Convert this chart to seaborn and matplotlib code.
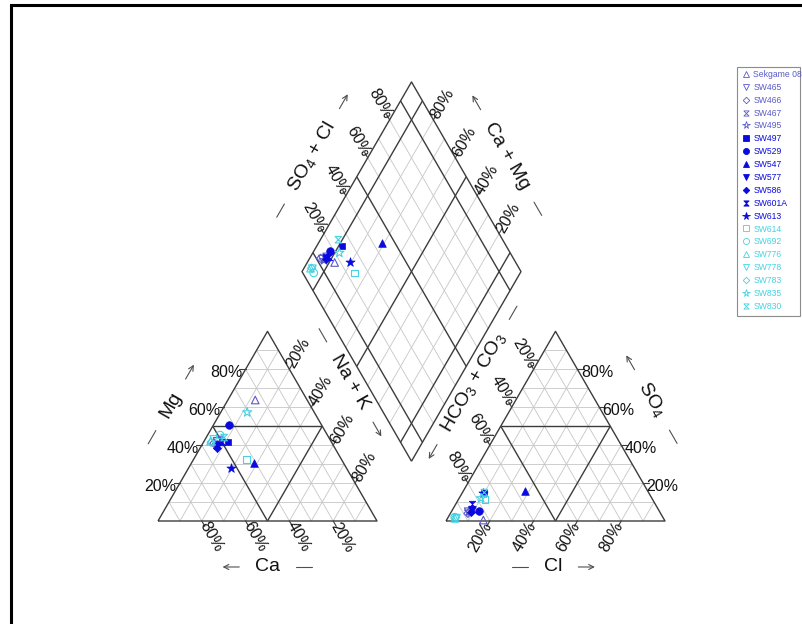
import numpy as np
import matplotlib
matplotlib.use("Agg")
import matplotlib.pyplot as plt
import seaborn as sns
from matplotlib.path import Path
from matplotlib.lines import Line2D
from matplotlib.patches import Rectangle

# ---------------------------------------------------------------- data (percent of meq)
samples = ["Sekgame 08", "SW465", "SW466", "SW467", "SW495", "SW497", "SW529",
           "SW547", "SW577", "SW586", "SW601A", "SW613", "SW614", "SW692",
           "SW776", "SW778", "SW783", "SW835", "SW830"]
ca   = [23.7, 52.0, 54.0, 50.0, 53.0, 47.1, 42.1, 40.8, 52.5, 54.1, 50.0, 52.8,
        43.3, 49.0, 55.0, 53.0, 55.0, 30.6, 47.8]
mg   = [63.8, 42.0, 41.0, 43.0, 40.0, 41.5, 50.6, 30.4, 40.0, 38.3, 41.8, 27.8,
        32.5, 45.3, 42.0, 43.0, 41.5, 57.3, 44.0]
na_k = [12.5, 6.0, 5.0, 7.0, 7.0, 11.4, 7.3, 28.8, 7.5, 7.6, 8.2, 19.4,
        24.2, 5.7, 3.0, 4.0, 3.5, 12.1, 8.2]
cl   = [16.8, 7.7, 8.0, 9.0, 8.0, 10.0, 12.5, 28.1, 8.8, 9.0, 7.3, 9.3,
        12.1, 3.0, 3.4, 4.0, 3.5, 10.0, 10.0]
so4  = [0.5, 4.9, 4.0, 6.0, 5.0, 15.0, 5.4, 16.0, 5.8, 5.0, 8.8, 14.9,
        11.4, 2.0, 1.4, 1.5, 1.8, 12.0, 15.0]
hco3 = [82.7, 87.4, 88.0, 85.0, 87.0, 75.0, 82.1, 55.9, 85.4, 86.0, 83.9, 75.8,
        76.5, 95.0, 95.2, 94.5, 94.7, 78.0, 75.0]

tick_values = [20, 40, 60, 80]

# ---------------------------------------------------------------- symbol styles
HOURGLASS = Path([(-1, 1), (1, 1), (-1, -1), (1, -1), (-1, 1)],
                 [Path.MOVETO, Path.LINETO, Path.LINETO, Path.LINETO, Path.CLOSEPOLY])
C_SLATE, C_BLUE, C_CYAN = "#5a5ac8", "#0a0ae0", "#45d2e2"
symbols = ["^", "v", "D", HOURGLASS, "*",
           "s", "o", "^", "v", "D", HOURGLASS, "*",
           "s", "o", "^", "v", "D", "*", HOURGLASS]
colors = [C_SLATE] * 5 + [C_BLUE] * 7 + [C_CYAN] * 7
filled = [False] * 5 + [True] * 7 + [False] * 7

def marker_size(m):
    if isinstance(m, Path):
        return 22
    return {"^": 30, "v": 30, "D": 17, "*": 48, "s": 24, "o": 30}[m]

# ---------------------------------------------------------------- geometry
sns.set_style("white")
plt.rcParams["font.family"] = ["Liberation Sans", "DejaVu Sans"]
plt.rcParams["mathtext.default"] = "regular"

UNIT = 219.0                      # pixels per triangle side
H = np.sqrt(3) / 2
GAP = 69 / UNIT
O_CAT = np.array([0.0, 0.0])
O_AN = np.array([1 + GAP, 0.0])
B = np.array([1 + GAP / 2, GAP * H])
UDIR = np.array([-0.5, H])
VDIR = np.array([0.5, H])
LV, RV, TV = B + UDIR, B + VDIR, B + UDIR + VDIR


def tern(org, a, b, c):
    """a -> lower-left vertex, b -> lower-right vertex, c -> apex (fractions)."""
    return org + np.array([b + c / 2, c * H])


def dia(u, v):
    return B + u * UDIR + v * VDIR


fig = plt.figure(figsize=(8.02, 6.24), dpi=100)
ax = fig.add_axes([0, 0, 1, 1])
ax.set_xlim(-158 / UNIT, (802 - 158) / UNIT)
ax.set_ylim(-(624 - 521) / UNIT, 521 / UNIT)
ax.set_axis_off()

LIGHT = dict(color="#c6c6c6", lw=0.6, zorder=1, solid_capstyle="butt")
DARK = dict(color="#3c3c3c", lw=1.0, zorder=2, solid_capstyle="butt")
TICK = dict(color="#3c3c3c", lw=0.8, zorder=2)


def seg(p, q, style):
    ax.plot([p[0], q[0]], [p[1], q[1]], **style)


fracs = np.round(np.arange(0.1, 1.0, 0.1), 1)

# triangles
for org in (O_CAT, O_AN):
    for f in fracs:
        st = DARK if abs(f - 0.5) < 1e-9 else LIGHT
        seg(tern(org, 1 - f, 0, f), tern(org, 0, 1 - f, f), st)
        seg(tern(org, f, 1 - f, 0), tern(org, f, 0, 1 - f), st)
        seg(tern(org, 1 - f, f, 0), tern(org, 0, f, 1 - f), st)
    v = [tern(org, 1, 0, 0), tern(org, 0, 1, 0), tern(org, 0, 0, 1), tern(org, 1, 0, 0)]
    ax.plot([p[0] for p in v], [p[1] for p in v], **DARK)

# diamond
for f in fracs:
    st = DARK if any(abs(f - k) < 1e-9 for k in (0.1, 0.5, 0.9)) else LIGHT
    seg(dia(f, 0), dia(f, 1), st)
    seg(dia(0, f), dia(1, f), st)
v = [B, RV, TV, LV, B]
ax.plot([p[0] for p in v], [p[1] for p in v], **DARK)


# ---------------------------------------------------------------- tick labels
def tick_label(p, direction, rot, text):
    d = np.asarray(direction, float)
    d /= np.linalg.norm(d)
    seg(p, p + 0.028 * d, TICK)
    if rot == 0:
        q = p + 0.089 * d + np.array([0, -0.014])
    else:
        q = p + 0.085 * d
    ax.text(q[0], q[1], text, rotation=rot, rotation_mode="anchor",
            ha="center", va="center", fontsize=11.5, color="#111111")


for val in tick_values:
    f = val / 100
    lab = f"{val}%"
    tick_label(tern(O_CAT, 1 - f, 0, f), (-1, 0), 0, lab)          # Mg
    tick_label(tern(O_CAT, f, 1 - f, 0), (0.5, -H), -60, lab)      # Ca
    tick_label(tern(O_CAT, 0, f, 1 - f), (0.5, H), 60, lab)        # Na + K
    tick_label(tern(O_AN, 0, 1 - f, f), (1, 0), 0, lab)            # SO4
    tick_label(tern(O_AN, 1 - f, f, 0), (-0.5, -H), 60, lab)       # Cl
    tick_label(tern(O_AN, f, 0, 1 - f), (-0.5, H), -60, lab)       # HCO3 + CO3
    tick_label(dia(1, f), (-0.5, H), -60, lab)                     # SO4 + Cl
    tick_label(dia(f, 1), (0.5, H), 60, lab)                       # Ca + Mg

# ---------------------------------------------------------------- axis titles
renderer = fig.canvas.get_renderer()
ARROW_C = "#505050"


def axis_title(S, E, t, normal, d, rot, label, arrow_to_end):
    S, E = np.asarray(S, float), np.asarray(E, float)
    e = (E - S) / np.linalg.norm(E - S)
    n = np.asarray(normal, float)
    n /= np.linalg.norm(n)
    c = S + t * (E - S) + d * n
    probe = ax.text(0, 0, label, fontsize=14)
    half = probe.get_window_extent(renderer).width / 2 / UNIT
    probe.remove()
    ax.text(c[0], c[1], label, rotation=rot, rotation_mode="anchor",
            ha="center", va="center", fontsize=14, color="#111111")
    off = half + 0.11
    sgn = 1 if arrow_to_end else -1
    a_c = c + sgn * e * off
    l_c = c - sgn * e * off
    seg(l_c - e * 0.035, l_c + e * 0.035, dict(color=ARROW_C, lw=0.8))
    ax.annotate("", xy=a_c + sgn * e * 0.038, xytext=a_c - sgn * e * 0.038,
                arrowprops=dict(arrowstyle="->", color=ARROW_C, lw=0.8,
                                shrinkA=0, shrinkB=0, mutation_scale=9))


NL, NR, NB = (-H, 0.5), (H, 0.5), (0, -1)
apex_c, apex_a = tern(O_CAT, 0, 0, 1), tern(O_AN, 0, 0, 1)
axis_title(O_CAT, apex_c, 0.49, NL, 0.215, 60, "Mg", True)
axis_title(O_CAT, tern(O_CAT, 0, 1, 0), 0.5, NB, 0.21, 0, "Ca", False)
axis_title(tern(O_CAT, 0, 1, 0), apex_c, 0.61, NR, 0.21, -60, "Na + K", False)
axis_title(O_AN, tern(O_AN, 0, 1, 0), 0.49, NB, 0.21, 0, "Cl", True)
axis_title(tern(O_AN, 0, 1, 0), apex_a, 0.51, NR, 0.225, -60, "SO$_4$", True)
axis_title(O_AN, apex_a, 0.61, NL, 0.21, 60, "HCO$_3$ + CO$_3$", False)
axis_title(LV, TV, 0.48, NL, 0.224, 60, "SO$_4$ + Cl", True)
axis_title(RV, TV, 0.49, NR, 0.21, -60, "Ca + Mg", True)

# ---------------------------------------------------------------- samples
for i in range(len(samples)):
    pts = [tern(O_CAT, ca[i] / 100, na_k[i] / 100, mg[i] / 100),
           tern(O_AN, hco3[i] / 100, cl[i] / 100, so4[i] / 100),
           dia((ca[i] + mg[i]) / 100, (cl[i] + so4[i]) / 100)]
    m = symbols[i]
    fc = colors[i] if filled[i] else "none"
    sns.scatterplot(x=[p[0] for p in pts], y=[p[1] for p in pts], ax=ax,
                    marker=m, s=marker_size(m), color=colors[i], facecolor=fc,
                    edgecolor=colors[i], linewidth=0.8 if not filled[i] else 0.5,
                    legend=False, zorder=5 + i * 0.01)

# ---------------------------------------------------------------- legend
handles = []
for i, name in enumerate(samples):
    m = symbols[i]
    handles.append(Line2D([], [], linestyle="none", marker=m,
                          markersize=np.sqrt(marker_size(m)) * 0.8,
                          markerfacecolor=colors[i] if filled[i] else "none",
                          markeredgecolor=colors[i], markeredgewidth=0.6,
                          label=name))
leg = fig.legend(handles=handles, loc="upper left",
                 bbox_to_anchor=(742 / 802, 1 - 70 / 624),
                 frameon=False, fontsize=6.2, handlelength=1.0,
                 handletextpad=0.3, borderpad=0, borderaxespad=0,
                 labelspacing=0.45)
for txt, col in zip(leg.get_texts(), colors):
    txt.set_color(col)
fig.add_artist(Rectangle((737 / 802, 1 - 316 / 624), 63 / 802, 249 / 624,
                         transform=fig.transFigure, fill=False,
                         edgecolor="#8c8c8c", lw=0.8))

# outer frame
fig.add_artist(Rectangle((11 / 802, -0.1), 1.2, 1.1 - 5 / 624,
                         transform=fig.transFigure, fill=False,
                         edgecolor="black", lw=2.2, clip_on=False))

fig.savefig("out.png", dpi=100)
